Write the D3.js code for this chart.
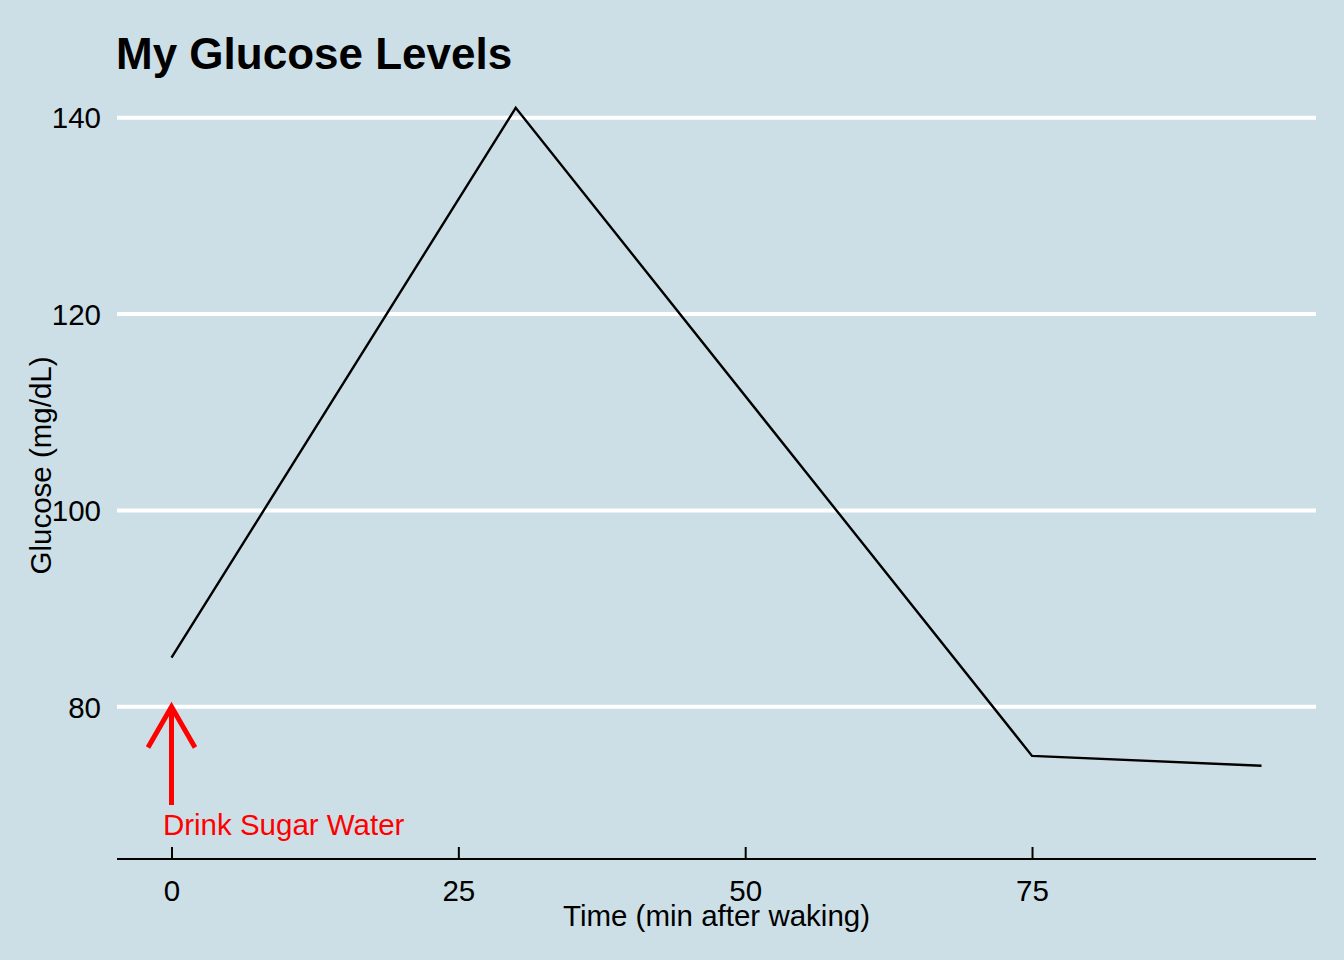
<!DOCTYPE html>
<html>
<head>
<meta charset="utf-8">
<script src="https://cdnjs.cloudflare.com/ajax/libs/d3/7.8.5/d3.min.js"></script>
<style>
  body { margin: 0; background: #cddfe6; }
  text { font-family: "Liberation Sans", Arial, Helvetica, sans-serif; }
</style>
</head>
<body>
<div id="chart"></div>
<script>
// Data
// ===========================
var times = [0, 30, 75, 95];
var glucose = [85, 141, 75, 74];
var xTicks = [0, 25, 50, 75];
var yTicks = [80, 100, 120, 140];

// annotation: arrow from 70 up to 80 at time 0, label at 68
var arrowX = 0;
var arrowFrom = 70;
var arrowTo = 80;
var noteX = -0.75;
var noteY = 68;
var noteText = "Drink Sugar Water";

// Setup
// ===========================
var width = 1344;
var height = 960;
var fontSize = 29.5;

var panel = { left: 117, right: 1316, top: 72, bottom: 859 };

var svg = d3.select("#chart")
  .append("svg")
  .attr("width", width)
  .attr("height", height);

svg.append("rect")
  .attr("width", width)
  .attr("height", height)
  .attr("fill", "#cddfe6");

// scales (ggplot style 5% expansion)
var xScale = d3.scaleLinear()
  .domain([-4.75, 99.75])
  .range([panel.left, panel.right]);

var yScale = d3.scaleLinear()
  .domain([64.5, 144.65])
  .range([panel.bottom, panel.top]);

// gridlines
svg.append("g")
  .selectAll("line")
  .data(yTicks)
  .enter()
  .append("line")
  .attr("x1", panel.left)
  .attr("x2", panel.right)
  .attr("y1", d => yScale(d))
  .attr("y2", d => yScale(d))
  .attr("stroke", "white")
  .attr("stroke-width", 4);

// y axis (labels only)
var leftAxis = d3.axisLeft(yScale)
  .tickValues(yTicks)
  .tickSize(0)
  .tickPadding(16);

var yAxisG = svg.append("g")
  .attr("transform", `translate(${panel.left}, 0)`)
  .call(leftAxis);

yAxisG.select(".domain").remove();
yAxisG.selectAll("text")
  .attr("font-size", fontSize)
  .attr("fill", "black")
  .attr("dy", "0.35em");

// x axis, ticks pointing up into the panel
var bottomAxis = d3.axisBottom(xScale)
  .tickValues(xTicks)
  .tickSizeInner(-12)
  .tickSizeOuter(0)
  .tickPadding(21);

var xAxisG = svg.append("g")
  .attr("transform", `translate(0, ${panel.bottom})`)
  .call(bottomAxis);

xAxisG.select(".domain")
  .attr("stroke", "black")
  .attr("stroke-width", 2)
  .attr("d", `M${panel.left},0H${panel.right}`);

xAxisG.selectAll(".tick line")
  .attr("stroke", "black")
  .attr("stroke-width", 2);

xAxisG.selectAll("text")
  .attr("font-size", fontSize)
  .attr("fill", "black")
  .attr("dy", "0.71em");

// line
var line = d3.line()
  .x(d => xScale(d[0]))
  .y(d => yScale(d[1]));

svg.append("path")
  .datum(d3.zip(times, glucose))
  .attr("d", line)
  .attr("fill", "none")
  .attr("stroke", "black")
  .attr("stroke-width", 2.4);

// annotation arrow
var ax = xScale(arrowX);
var tipY = yScale(arrowTo);
var headLen = 47;
var headAng = 30 * Math.PI / 180;

svg.append("line")
  .attr("x1", ax)
  .attr("x2", ax)
  .attr("y1", yScale(arrowFrom))
  .attr("y2", tipY)
  .attr("stroke", "red")
  .attr("stroke-width", 5);

svg.append("path")
  .attr("d", `M${ax - headLen * Math.sin(headAng)},${tipY + headLen * Math.cos(headAng)}` +
             `L${ax},${tipY}` +
             `L${ax + headLen * Math.sin(headAng)},${tipY + headLen * Math.cos(headAng)}`)
  .attr("fill", "none")
  .attr("stroke", "red")
  .attr("stroke-width", 5);

svg.append("text")
  .attr("x", xScale(noteX))
  .attr("y", yScale(noteY))
  .attr("dy", "0.35em")
  .attr("font-size", fontSize)
  .attr("fill", "red")
  .text(noteText);

// titles
svg.append("text")
  .attr("x", 116)
  .attr("y", 69)
  .attr("font-size", 44)
  .attr("font-weight", "bold")
  .attr("fill", "black")
  .text("My Glucose Levels");

svg.append("text")
  .attr("x", (panel.left + panel.right) / 2)
  .attr("y", 926)
  .attr("text-anchor", "middle")
  .attr("font-size", fontSize)
  .attr("fill", "black")
  .text("Time (min after waking)");

svg.append("text")
  .attr("transform", `translate(51, ${(panel.top + panel.bottom) / 2}) rotate(-90)`)
  .attr("text-anchor", "middle")
  .attr("font-size", fontSize)
  .attr("fill", "black")
  .text("Glucose (mg/dL)");
</script>
</body>
</html>
